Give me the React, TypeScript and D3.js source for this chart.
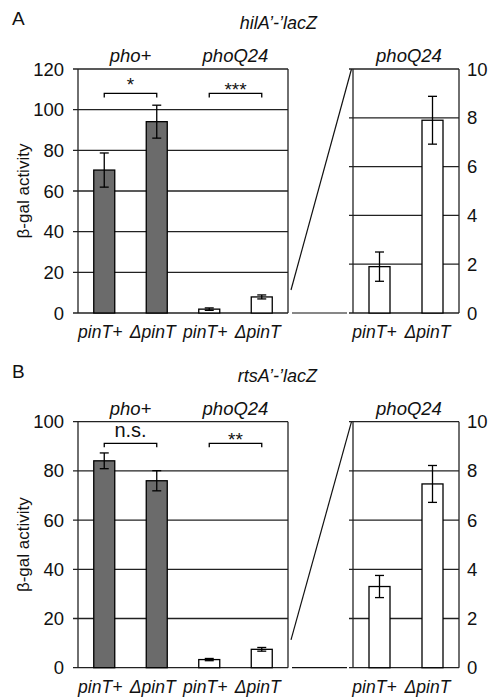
import * as d3 from 'd3';

// strains on the x axis and the two genetic backgrounds
const strains = ['pinT+', 'ΔpinT', 'pinT+', 'ΔpinT'];
const backgrounds = ['pho+', 'phoQ24'];
const insetStrains = ['pinT+', 'ΔpinT'];

// panel A: hilA'-'lacZ
const hilAMeans = [70.3, 94.1, 1.9, 7.9];
const hilAErrors = [8.4, 8.1, 0.6, 0.98];
const hilASignif = ['*', '***'];

// panel B: rtsA'-'lacZ
const rtsAMeans = [84.1, 76.0, 3.3, 7.47];
const rtsAErrors = [3.2, 4.1, 0.45, 0.75];
const rtsASignif = ['n.s.', '**'];

const FONT = '"Liberation Sans", Arial, sans-serif';
const W = 495;
const H = 699;

const Panel = ({ letter, title, means, errors, signif, yMax, bracketY, top, bottom }) => {
  const x = d3.scaleBand().domain(d3.range(strains.length)).range([78, 288]);
  const y = d3.scaleLinear().domain([0, yMax]).range([bottom, top]);
  const xi = d3.scaleBand().domain(d3.range(insetStrains.length)).range([353, 459]);
  const yi = d3.scaleLinear().domain([0, 10]).range([bottom, top]);
  const bw = x.bandwidth() * 0.4;
  const mainTicks = d3.range(0, yMax + 1, 20);
  const insetTicks = d3.range(0, 11, 2);
  const insetVals = means.slice(2);
  const insetErrs = errors.slice(2);
  const cx = (i) => x(i) + x.bandwidth() / 2;
  const cxi = (i) => xi(i) + xi.bandwidth() / 2;

  return (
    <g fontFamily={FONT} fill="#111">
      <text x={12} y={top - 44} fontSize={19}>{letter}</text>
      <text x={317} y={top - 40} fontSize={18} fontStyle="italic" textAnchor="end">{title}</text>

      {/* y title */}
      <text transform={`translate(29,${(top + bottom) / 2}) rotate(-90)`} fontSize={17} textAnchor="middle">β-gal activity</text>

      {/* main grid + ticks */}
      {mainTicks.map((t) => (
        <g key={t}>
          <line x1={73} x2={288} y1={y(t)} y2={y(t)} stroke="#222" strokeWidth={1.3} />
          <text x={64} y={y(t) + 6.5} fontSize={18.5} textAnchor="end">{t}</text>
        </g>
      ))}
      <line x1={78} x2={78} y1={top} y2={bottom} stroke="#222" strokeWidth={1.3} />
      <line x1={288} x2={288} y1={top} y2={bottom} stroke="#222" strokeWidth={1.3} />

      {/* bars */}
      {means.map((m, i) => (
        <g key={i}>
          <rect x={cx(i) - bw / 2} y={y(m)} width={bw} height={y(0) - y(m)}
            fill={i < 2 ? '#6b6b6b' : '#fff'} stroke="#000" strokeWidth={1.3} />
          <line x1={cx(i)} x2={cx(i)} y1={y(m + errors[i])} y2={y(m - errors[i])} stroke="#000" strokeWidth={1.3} />
          <line x1={cx(i) - 4.5} x2={cx(i) + 4.5} y1={y(m + errors[i])} y2={y(m + errors[i])} stroke="#000" strokeWidth={1.3} />
          <line x1={cx(i) - 4.5} x2={cx(i) + 4.5} y1={y(m - errors[i])} y2={y(m - errors[i])} stroke="#000" strokeWidth={1.3} />
          <text x={cx(i) - 4} y={bottom + 25} fontSize={17.5} fontStyle="italic" textAnchor="middle">{strains[i]}</text>
        </g>
      ))}

      {/* group labels + significance brackets */}
      {backgrounds.map((b, g) => {
        const x1 = cx(g * 2);
        const x2 = cx(g * 2 + 1);
        const by = y(bracketY);
        const ns = signif[g] === 'n.s.';
        return (
          <g key={b}>
            <text x={(x1 + x2) / 2} y={top - 7} fontSize={18.5} fontStyle="italic" textAnchor="middle">{b}</text>
            <path d={`M${x1},${by + 4}V${by}H${x2}V${by + 4}`} fill="none" stroke="#000" strokeWidth={1.3} />
            <text x={(x1 + x2) / 2} y={ns ? by - 6 : by + (signif[g].length > 1 ? 3 : -2)} fontSize={ns ? 20 : 19}
              textAnchor="middle">{signif[g]}</text>
          </g>
        );
      })}

      {/* connectors to the inset */}
      <line x1={291} y1={y(11.3)} x2={351.5} y2={top} stroke="#111" strokeWidth={1.2} />
      <line x1={292} y1={bottom} x2={347} y2={bottom} stroke="#111" strokeWidth={1.2} />

      {/* inset */}
      {insetTicks.map((t) => (
        <g key={t}>
          <line x1={349} x2={459} y1={yi(t)} y2={yi(t)} stroke="#222" strokeWidth={1.3} />
          <text x={467} y={yi(t) + 6.5} fontSize={18.5}>{t}</text>
        </g>
      ))}
      <line x1={353} x2={353} y1={top} y2={bottom} stroke="#222" strokeWidth={1.3} />
      <line x1={459} x2={459} y1={top} y2={bottom} stroke="#222" strokeWidth={1.3} />
      <text x={(353 + 459) / 2 + 3} y={top - 7} fontSize={18.5} fontStyle="italic" textAnchor="middle">{backgrounds[1]}</text>
      {insetVals.map((m, i) => (
        <g key={i}>
          <rect x={cxi(i) - bw / 2} y={yi(m)} width={bw} height={yi(0) - yi(m)} fill="#fff" stroke="#000" strokeWidth={1.3} />
          <line x1={cxi(i)} x2={cxi(i)} y1={yi(m + insetErrs[i])} y2={yi(m - insetErrs[i])} stroke="#000" strokeWidth={1.3} />
          <line x1={cxi(i) - 4.5} x2={cxi(i) + 4.5} y1={yi(m + insetErrs[i])} y2={yi(m + insetErrs[i])} stroke="#000" strokeWidth={1.3} />
          <line x1={cxi(i) - 4.5} x2={cxi(i) + 4.5} y1={yi(m - insetErrs[i])} y2={yi(m - insetErrs[i])} stroke="#000" strokeWidth={1.3} />
          <text x={cxi(i) - 5} y={bottom + 25} fontSize={17.5} fontStyle="italic" textAnchor="middle">{insetStrains[i]}</text>
        </g>
      ))}
    </g>
  );
};

export default function App() {
  return (
    <svg width={W} height={H} style={{ position: 'absolute', left: 0, top: 0, background: '#fff' }}>
      <Panel letter="A" title="hilA’-’lacZ" means={hilAMeans} errors={hilAErrors} signif={hilASignif}
        yMax={120} bracketY={108} top={69} bottom={313} />
      <Panel letter="B" title="rtsA’-’lacZ" means={rtsAMeans} errors={rtsAErrors} signif={rtsASignif}
        yMax={100} bracketY={91.2} top={421.7} bottom={667.7} />
    </svg>
  );
}
